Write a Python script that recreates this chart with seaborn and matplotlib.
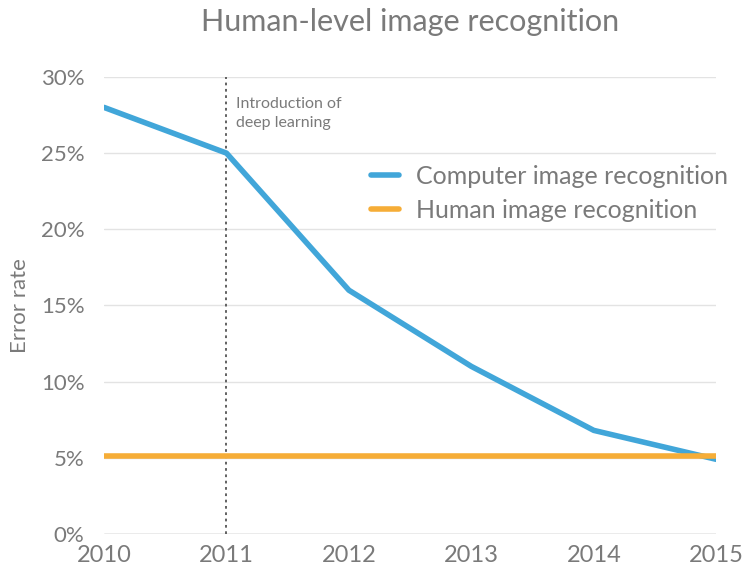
import numpy as np
import pandas as pd
import matplotlib
matplotlib.use('Agg')
import matplotlib.pyplot as plt
import seaborn as sns
from matplotlib.ticker import PercentFormatter

years = [2010, 2011, 2012, 2013, 2014, 2015]
computer_err = [28.0, 25.0, 16.0, 11.0, 6.8, 4.9]
human_err = [5.1, 5.1, 5.1, 5.1, 5.1, 5.1]

df = pd.DataFrame({
    'year': years * 2,
    'error': computer_err + human_err,
    'series': ['Computer image recognition'] * len(years) + ['Human image recognition'] * len(years),
})

sns.set_theme(style='white')
plt.rcParams['font.family'] = ['Lato', 'DejaVu Sans']

grey = '#7a7a7a'
fig = plt.figure(figsize=(7.43, 5.74), dpi=100)
ax = fig.add_axes([0.14, 0.0697, 0.824, 0.7963])

sns.lineplot(data=df, x='year', y='error', hue='series',
             palette=['#41a6d9', '#f6ad37'], linewidth=4, ax=ax)

# grid lines
for v in range(5, 35, 5):
    ax.axhline(v, color='#e3e3e3', linewidth=1, zorder=0)
ax.axhline(0, color='#9a9a9a', linewidth=1, zorder=0)

# dotted line at introduction of deep learning
ax.axvline(2011, color='#555555', linestyle=(0, (1.5, 2)), linewidth=1.3, zorder=1)
ax.text(2011.08, 28.65, 'Introduction of\ndeep learning', fontsize=11.5, color=grey,
        va='top', ha='left', linespacing=1.45)

ax.set_xlim(2010, 2015)
ax.set_ylim(0, 30)
ax.set_yticks(range(0, 35, 5))
ax.yaxis.set_major_formatter(PercentFormatter(decimals=0))
ax.set_xticks(years)
ax.tick_params(axis='y', labelsize=16, colors=grey, length=0, pad=14)
ax.tick_params(axis='x', labelsize=17, colors=grey, length=0, pad=8)
for s in ax.spines.values():
    s.set_visible(False)

ax.set_xlabel('')
ax.set_ylabel('Error rate', fontsize=16, color=grey, labelpad=8)
ax.set_title('Human-level image recognition', fontsize=22, color=grey, pad=33)

leg = ax.legend(loc='upper left', bbox_to_anchor=(0.4, 0.856), frameon=False,
                fontsize=18, handlelength=1.1, handletextpad=0.7, labelspacing=0.42)
for t in leg.get_texts():
    t.set_color(grey)

fig.savefig('out.png', dpi=100)
